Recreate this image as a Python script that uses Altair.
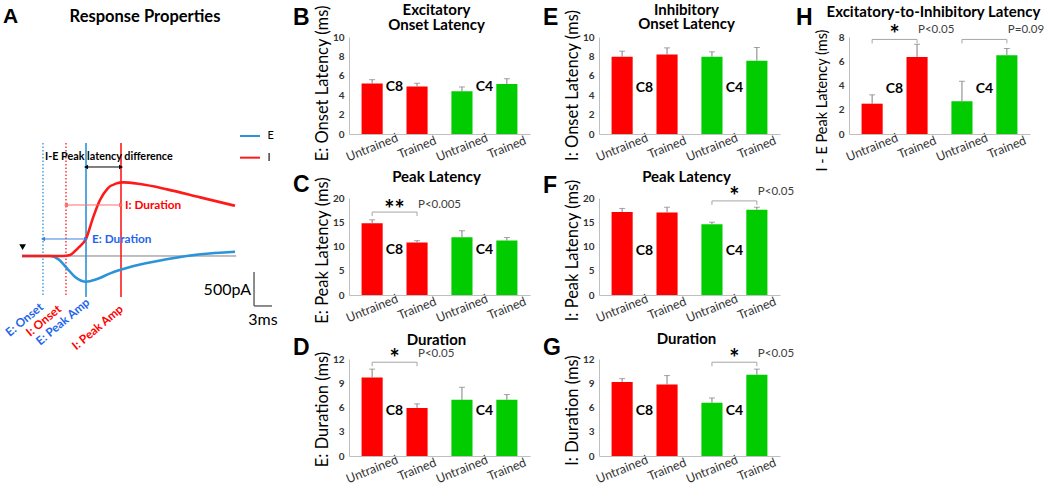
import altair as alt
import pandas as pd

FONT = "Lato"
LETTER_FONT = "Liberation Sans"

RED = "#FF0000"
GREEN = "#00CC00"
AXIS_GRAY = "#BFBFBF"
ERR_GRAY = "#7F7F7F"
BRACKET_GRAY = "#A6A6A6"
TEXT_DARK = "#333333"
E_LINE = "#2B93D9"
E_TEXT = "#1E64EB"
I_LINE = "#FF1A1A"

PLOT_W = 181
PLOT_H = 97

# ---------------------------------------------------------------------------
# Bar panels: group means and SEM
# ---------------------------------------------------------------------------
GROUPS = ["C8 Untrained", "C8 Trained", "C4 Untrained", "C4 Trained"]
BAR_FILL = [RED, RED, GREEN, GREEN]

e_onset_mean = [5.2, 4.9, 4.4, 5.15]
e_onset_sem = [0.4, 0.33, 0.45, 0.55]
e_peak_mean = [14.8, 10.8, 11.9, 11.25]
e_peak_sem = [0.7, 0.4, 1.35, 0.6]
e_dur_mean = [9.7, 5.95, 6.95, 6.95]
e_dur_sem = [1.05, 0.5, 1.55, 0.65]
i_onset_mean = [7.97, 8.2, 7.97, 7.56]
i_onset_sem = [0.57, 0.68, 0.5, 1.36]
i_peak_mean = [17.1, 17.0, 14.6, 17.6]
i_peak_sem = [0.75, 1.1, 0.4, 0.5]
i_dur_mean = [9.15, 8.85, 6.6, 10.05]
i_dur_sem = [0.42, 1.1, 0.58, 0.7]
ie_lat_mean = [2.5, 6.35, 2.7, 6.5]
ie_lat_sem = [0.73, 1.05, 1.65, 0.55]

# significance brackets: (left group, right group, bracket level, stars, p label, label level)
e_peak_sig = [("C8 Untrained", "C8 Trained", 17.1, "**", "P<0.005", 18.6)]
e_dur_sig = [("C8 Untrained", "C8 Trained", 11.6, "*", "P<0.05", 12.6)]
i_peak_sig = [("C4 Untrained", "C4 Trained", 19.4, "*", "P<0.05", 21.2)]
i_dur_sig = [("C4 Untrained", "C4 Trained", 11.6, "*", "P<0.05", 12.6)]
ie_sig = [("C8 Untrained", "C8 Trained", 7.8, "*", "P<0.05", 8.6),
          ("C4 Untrained", "C4 Trained", 7.8, "", "P=0.09", 8.6)]

# ---------------------------------------------------------------------------
# Panel A: schematic E / I current traces (time in ms, current in pA)
# ---------------------------------------------------------------------------
i_trace_t = [0, 6.8, 8.0, 9.3, 10.7, 11.8, 13.0, 14.3, 15.8, 16.8, 19.7, 24.2, 29.7, 35.5]
i_trace_pa = [0, 0, 15, 113, 260, 554, 823, 995, 1069, 1083, 1058, 980, 862, 739]
e_trace_t = [0, 4.7, 6.1, 7.5, 8.8, 10.7, 12.4, 14.7, 18.6, 24.1, 29.7, 35.5]
e_trace_pa = [0, 0, -49, -181, -304, -378, -343, -255, -147, -49, 25, 63]

marker_names = ["E: Onset", "I: Onset", "E: Peak Amp", "I: Peak Amp"]
marker_t = [3.5, 7.33, 10.67, 16.5]
marker_color = [E_TEXT, RED, E_TEXT, RED]
marker_line_color = [E_LINE, I_LINE, E_LINE, I_LINE]
marker_dotted = [True, True, False, False]
marker_label_t = [3.67, 6.67, 11.4, 17.0]
marker_label_pa = [-770, -800, -700, -800]

A_T_DOMAIN = [-3.667, 43.0]
A_PA_DOMAIN = [-2941.2, 3220.6]
A_W = 280
A_H = 419


def schematic_panel():
    tx = alt.Scale(domain=A_T_DOMAIN, range=[0, A_W], nice=False, zero=False)
    ty = alt.Scale(domain=A_PA_DOMAIN, range=[A_H, 0], nice=False, zero=False)

    def X(f):
        return alt.X(f, type="quantitative", scale=tx, axis=None)

    def Y(f):
        return alt.Y(f, type="quantitative", scale=ty, axis=None)

    baseline = alt.Chart(pd.DataFrame({"t0": [0], "t1": [35.7], "v": [0]})).mark_rule(
        color="#7F7F7F", strokeWidth=1).encode(x=X("t0"), x2="t1", y=Y("v"))

    mk = pd.DataFrame({"t": marker_t, "top": [1662] * 4, "bot": [-603] * 4,
                       "col": marker_line_color, "dotted": marker_dotted})
    dotted = alt.Chart(mk[mk.dotted]).mark_rule(strokeWidth=1.3, strokeDash=[1.5, 2]).encode(
        x=X("t"), y=Y("top"), y2="bot", color=alt.Color("col:N", scale=None))
    solid = alt.Chart(mk[~mk.dotted]).mark_rule(strokeWidth=1.6).encode(
        x=X("t"), y=Y("top"), y2="bot", color=alt.Color("col:N", scale=None))

    e_line = alt.Chart(pd.DataFrame({"t": e_trace_t, "pa": e_trace_pa})).mark_line(
        color=E_LINE, strokeWidth=2.6, interpolate="monotone").encode(x=X("t"), y=Y("pa"))
    i_line = alt.Chart(pd.DataFrame({"t": i_trace_t, "pa": i_trace_pa})).mark_line(
        color=I_LINE, strokeWidth=2.6, interpolate="monotone").encode(x=X("t"), y=Y("pa"))

    arrows = pd.DataFrame({"t0": [10.67, 7.33, 3.5], "t1": [16.5, 16.5, 10.67],
                           "v": [1309, 750, 250], "col": ["#000000", "#FF6B6B", "#3D7FE0"]})
    arrow_shafts = alt.Chart(arrows).mark_rule(strokeWidth=1).encode(
        x=X("t0"), x2="t1", y=Y("v"), color=alt.Color("col:N", scale=None))
    heads = pd.DataFrame({
        "t": list(arrows.t0) + list(arrows.t1),
        "v": list(arrows.v) * 2,
        "col": list(arrows.col) * 2,
        "shape": ["triangle-left"] * 3 + ["triangle-right"] * 3,
    })
    arrow_heads = alt.Chart(heads).mark_point(filled=True, opacity=1, size=22).encode(
        x=X("t"), y=Y("v"), color=alt.Color("col:N", scale=None),
        shape=alt.Shape("shape:N", scale=None))

    trigger = alt.Chart(pd.DataFrame({"t": [0.1], "v": [130]})).mark_point(
        shape="triangle-down", filled=True, opacity=1, size=45, color="black").encode(
        x=X("t"), y=Y("v"))

    legend = pd.DataFrame({"t0": [36.33, 36.33], "t1": [39.67, 39.67], "v": [1765, 1446],
                           "col": [E_LINE, I_LINE], "lab": ["E", "I"], "tl": [40.9, 40.9]})
    legend_lines = alt.Chart(legend).mark_rule(strokeWidth=2).encode(
        x=X("t0"), x2="t1", y=Y("v"), color=alt.Color("col:N", scale=None))
    legend_text = alt.Chart(legend).mark_text(font=FONT, fontSize=11, align="left",
                                              baseline="middle", color="black").encode(
        x=X("tl"), y=Y("v"), text="lab:N")

    scalebar = pd.DataFrame({"t0": [38.67, 38.67], "t1": [38.67, 41.67],
                             "v0": [-235, -735], "v1": [-735, -735]})
    scale_lines = alt.Chart(scalebar).mark_rule(strokeWidth=1.2, color="#404040").encode(
        x=X("t0"), x2="t1", y=Y("v0"), y2="v1")
    scale_v = alt.Chart(pd.DataFrame({"t": [38.17], "v": [-574], "s": ["500pA"]})).mark_text(
        font=FONT, fontSize=16, align="right", baseline="alphabetic", color="black").encode(
        x=X("t"), y=Y("v"), text="s:N")
    scale_h = alt.Chart(pd.DataFrame({"t": [40.17], "v": [-1015], "s": ["3ms"]})).mark_text(
        font=FONT, fontSize=16, align="center", baseline="alphabetic", color="black").encode(
        x=X("t"), y=Y("v"), text="s:N")

    notes = pd.DataFrame({
        "t": [3.83, 17.17, 11.67],
        "v": [1419, 691, 191],
        "s": ["I-E Peak latency difference", "I: Duration", "E: Duration"],
        "col": ["#000000", RED, E_TEXT],
        "size": [10.8, 11.8, 11.8],
    })
    note_text = alt.Chart(notes).mark_text(font=FONT, fontWeight="bold", align="left",
                                           baseline="alphabetic").encode(
        x=X("t"), y=Y("v"), text="s:N", color=alt.Color("col:N", scale=None),
        size=alt.Size("size:Q", scale=None))

    mlab = pd.DataFrame({"t": marker_label_t, "v": marker_label_pa, "s": marker_names,
                         "col": marker_color})
    marker_text = alt.Chart(mlab).mark_text(font=FONT, fontSize=11.8, fontWeight="bold",
                                            angle=320, align="right",
                                            baseline="alphabetic").encode(
        x=X("t"), y=Y("v"), text="s:N", color=alt.Color("col:N", scale=None))

    heading = alt.Chart(pd.DataFrame({"t": [20.5], "v": [3441], "s": ["Response Properties"]})).mark_text(
        font=FONT, fontSize=16.5, fontWeight="bold", align="center", baseline="alphabetic",
        color="black").encode(x=X("t"), y=Y("v"), text="s:N")
    letter = alt.Chart(pd.DataFrame({"t": [-3.17], "v": [3426], "s": ["A"]})).mark_text(
        font=LETTER_FONT, fontSize=21, fontWeight="bold", align="left", baseline="alphabetic",
        color="black").encode(x=X("t"), y=Y("v"), text="s:N")

    return alt.layer(
        baseline, dotted, solid, e_line, i_line, arrow_shafts, arrow_heads, trigger,
        legend_lines, legend_text, scale_lines, scale_v, scale_h, note_text, marker_text,
        heading, letter,
    ).properties(width=A_W, height=PLOT_H)


def bar_panel(letter, letter_xy, title_lines, y_title, y_title_y,
              means, sems, ymax, ystep, tag_y, brackets=(), title_dx=-3, y_title_size=16.5):
    tops = [round(m + s, 2) for m, s in zip(means, sems)]
    df = pd.DataFrame({"group": GROUPS, "mean": means, "top": tops, "fill": BAR_FILL})
    xs = alt.Scale(domain=GROUPS, paddingInner=0.53, paddingOuter=0.28)
    ys = alt.Scale(domain=[0, ymax], nice=False, zero=True)

    x_axis = alt.Axis(title=None, ticks=False, domainColor=AXIS_GRAY, labelFont=FONT,
                      labelFontSize=12.5, labelColor=TEXT_DARK, labelAngle=338,
                      labelAlign="center", labelBaseline="middle", labelPadding=13,
                      labelOverlap=False, labelExpr="split(datum.label, ' ')[1]")
    y_axis = alt.Axis(title=y_title, values=list(range(0, ymax + 1, ystep)), grid=False,
                      ticks=False, domainColor=AXIS_GRAY, labelFont=FONT, labelFontSize=10,
                      labelFontWeight="bold", labelColor=TEXT_DARK, labelPadding=5,
                      labelOverlap=False, labelFlush=False,
                      titleFont=FONT, titleFontSize=y_title_size, titleFontWeight="normal",
                      titleColor="black", titleAngle=270, titleX=-27, titleY=y_title_y,
                      titleBaseline="middle", titleAlign="center")

    # every layer carries the same axis definition so the merged axes stay intact
    def XB(f="group", band=None):
        if band is None:
            return alt.X(f"{f}:N", scale=xs, axis=x_axis)
        return alt.X(f"{f}:N", scale=xs, axis=x_axis, bandPosition=band)

    def YB(f):
        return alt.Y(f"{f}:Q", scale=ys, axis=y_axis)

    base = alt.Chart(df)
    bars = base.mark_bar().encode(
        x=XB(), y=YB("mean"), color=alt.Color("fill:N", scale=None),
    )
    whisker = base.mark_rule(color=ERR_GRAY, strokeWidth=1).encode(
        x=XB(), y=YB("mean"), y2="top:Q")
    cap = base.mark_tick(color=ERR_GRAY, thickness=1, size=6).encode(x=XB(), y=YB("top"))

    tags = alt.Chart(pd.DataFrame({"group": ["C8 Trained", "C4 Trained"], "lab": ["C8", "C4"],
                                   "y": [tag_y, tag_y]})).mark_text(
        font=FONT, fontSize=14, fontWeight="bold", color="black", dx=-12,
        align="center", baseline="middle").encode(x=XB("group", 0), y=YB("y"), text="lab:N")

    layers = [bars, whisker, cap, tags]

    if brackets:
        depth = 4 * ymax / PLOT_H
        hb = pd.DataFrame({"a": [b[0] for b in brackets], "b": [b[1] for b in brackets],
                           "lev": [b[2] for b in brackets]})
        vb = pd.DataFrame({"g": [b[0] for b in brackets] + [b[1] for b in brackets],
                           "lev": [b[2] for b in brackets] * 2,
                           "low": [b[2] - depth for b in brackets] * 2})
        lab = pd.DataFrame({"g": [b[1] for b in brackets], "star": [b[3] for b in brackets],
                            "p": [b[4] for b in brackets], "y": [b[5] for b in brackets]})
        layers += [
            alt.Chart(hb).mark_rule(color=BRACKET_GRAY, strokeWidth=1).encode(
                x=XB("a"), x2="b:N", y=YB("lev")),
            alt.Chart(vb).mark_rule(color=BRACKET_GRAY, strokeWidth=1).encode(
                x=XB("g"), y=YB("lev"), y2="low:Q"),
            alt.Chart(lab).mark_text(font=FONT, fontSize=24, fontWeight="bold", color="black",
                                     dx=-12, dy=6, align="center", baseline="middle").encode(
                x=XB("g", 0), y=YB("y"), text="star:N"),
            alt.Chart(lab).mark_text(font=FONT, fontSize=11.5, color="#404040", dx=1,
                                     align="left", baseline="middle").encode(
                x=XB("g"), y=YB("y"), text="p:N"),
        ]

    # panel letter and (one- or two-line) heading above the plot
    layers.append(
        alt.Chart(pd.DataFrame({"s": [letter]})).mark_text(
            font=LETTER_FONT, fontSize=23, fontWeight="bold", color="black",
            align="left", baseline="alphabetic").encode(
            text="s:N", x=alt.value(letter_xy[0]), y=alt.value(letter_xy[1]))
    )
    for line, line_y in title_lines:
        layers.append(
            alt.Chart(pd.DataFrame({"s": [line]})).mark_text(
                font=FONT, fontSize=15, fontWeight="bold", color="black",
                align="center", baseline="alphabetic").encode(
                text="s:N", x=alt.value(PLOT_W / 2 + title_dx), y=alt.value(line_y))
        )

    return alt.layer(*layers).properties(width=PLOT_W, height=PLOT_H)


panel_a = schematic_panel()
panel_b = bar_panel("B", (-56, -12), [("Excitatory", -22), ("Onset Latency", -7)],
                    "E: Onset Latency (ms)", 46, e_onset_mean, e_onset_sem, 10, 2, 4.8)
panel_c = bar_panel("C", (-56, -6), [("Peak Latency", -16)],
                    "E: Peak Latency (ms)", 52, e_peak_mean, e_peak_sem, 20, 5, 9.3, e_peak_sig)
panel_d = bar_panel("D", (-56, -4), [("Duration", -14)],
                    "E: Duration (ms)", 50, e_dur_mean, e_dur_sem, 12, 3, 5.6, e_dur_sig)
panel_e = bar_panel("E", (-56, -12), [("Inhibitory", -22), ("Onset Latency", -8)],
                    "I: Onset Latency (ms)", 48, i_onset_mean, i_onset_sem, 10, 2, 4.7)
panel_f = bar_panel("F", (-56, -5), [("Peak Latency", -16)],
                    "I: Peak Latency (ms)", 52, i_peak_mean, i_peak_sem, 20, 5, 9.1, i_peak_sig)
panel_g = bar_panel("G", (-56, -4), [("Duration", -15)],
                    "I: Duration (ms)", 51, i_dur_mean, i_dur_sem, 12, 3, 5.6, i_dur_sig)
panel_h = bar_panel("H", (-53, -12), [("Excitatory-to-Inhibitory Latency", -20)],
                    "I - E Peak Latency (ms)", 63, ie_lat_mean, ie_lat_sem, 8, 2, 3.7, ie_sig,
                    title_dx=-6, y_title_size=14.5)

spacer = alt.Chart(pd.DataFrame({"n": [0]})).mark_point(opacity=0, size=0).encode(
    x=alt.value(0), y=alt.value(0)).properties(width=1, height=1)

chart = alt.concat(
    panel_a, panel_b, panel_e, panel_h,
    spacer, panel_c, panel_f, spacer,
    spacer, panel_d, panel_g, spacer,
    columns=4, spacing={"row": 64, "column": 69}, bounds="flush", align="each",
).properties(
    padding={"left": 0, "top": 3, "right": 0, "bottom": 0},
    background="white",
).configure_view(stroke=None)

chart.save("out.html", embed_options={"renderer": "svg", "actions": False})
